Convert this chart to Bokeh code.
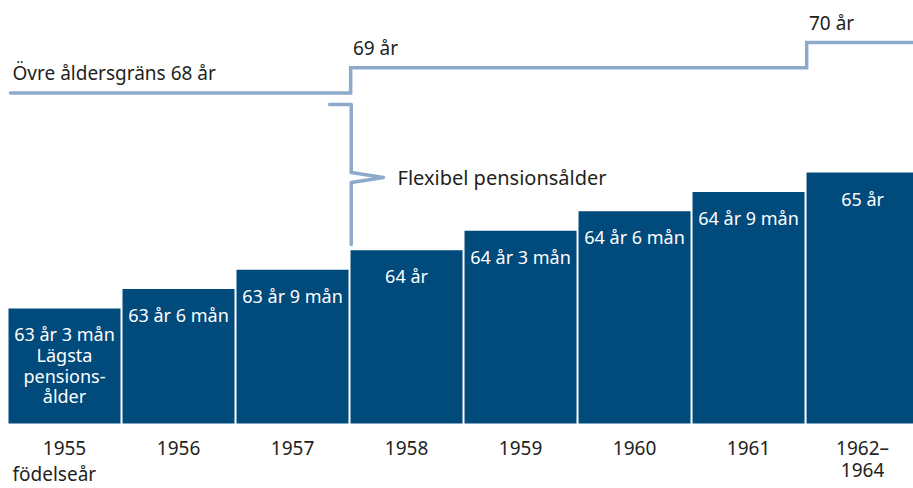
from bokeh.plotting import figure
from bokeh.models import Range1d
from bokeh.core.properties import value
from bokeh.embed import file_html
from bokeh.resources import INLINE

# ---- data ----
birth_years = ["1955", "1956", "1957", "1958", "1959", "1960", "1961", "1962–\n1964"]
min_age_years = [63, 63, 63, 64, 64, 64, 64, 65]
min_age_months = [3, 6, 9, 0, 3, 6, 9, 0]
upper_limit = [68, 68, 68, 69, 69, 69, 69, 70]
first_note = "Lägsta\npensions-\nålder"
upper_title = "Övre åldersgräns"
flex_title = "Flexibel pensionsålder"
x_title = "födelseår"

FONT = value("Noto Sans")
BAR = "#004a7c"
LINE = "#8eaacb"
TXT = "#231f20"

idx = list(range(len(birth_years)))
min_age = [y + m / 12 for y, m in zip(min_age_years, min_age_months)]
bar_labels = []
for y, m in zip(min_age_years, min_age_months):
    bar_labels.append(f"{y} år {m} mån" if m else f"{y} år")
bar_labels[0] = bar_labels[0] + "\n" + first_note

p = figure(width=913, height=488, x_range=Range1d(-0.5614, 7.447),
           y_range=Range1d(60.933, 67.214), output_backend="svg",
           toolbar_location=None, min_border=0,
           x_axis_location=None, y_axis_location=None)
p.extra_y_ranges = {"limit": Range1d(52.306, 71.671)}
p.grid.visible = False
p.outline_line_color = None
p.background_fill_color = "white"

base = 61.77
p.vbar(x=idx, top=min_age, bottom=base, width=0.9825, color=BAR, line_color=None)

# bar labels
p.text(x=idx, y=min_age, text=bar_labels, text_align="center", text_baseline="top",
       y_offset=14, text_color="white", text_font=FONT, text_font_size="18px",
       text_line_height=0.86)

# upper limit step line
xs, ys = [], []
for i, v in enumerate(upper_limit):
    left = -0.474 if i == 0 else i - 0.49
    xs += [left, i + 0.51]
    ys += [v, v]
p.line(xs, ys, y_range_name="limit", line_color=LINE, line_width=3.5,
       line_cap="round", line_join="miter")

# labels for upper limits
lab_x, lab_y, lab_t = [], [], []
for i, v in enumerate(upper_limit):
    if i == 0 or v != upper_limit[i - 1]:
        lab_x.append(-0.456 if i == 0 else i - 0.47)
        lab_y.append(v)
        lab_t.append(f"{upper_title} {v} år" if i == 0 else f"{v} år")
p.text(x=lab_x, y=lab_y, text=lab_t, y_range_name="limit", text_align="left",
       text_baseline="middle", y_offset=-20, text_color=TXT, text_font=FONT,
       text_font_size="19px")

# bracket for flexible pension age
bx = 2.515
p.line([2.325, bx, bx, 2.798, bx, bx], [65.875, 65.875, 65.0, 64.936, 64.872, 64.074],
       line_color=LINE, line_width=3.5, line_cap="round", line_join="round")
p.text(x=[2.921], y=[64.936], text=[flex_title], text_align="left",
       text_baseline="middle", text_color=TXT, text_font=FONT, text_font_size="20px")

# year labels (first and second line)
first_lines = [s.split("\n")[0] for s in birth_years]
second_x = [i for i, s in zip(idx, birth_years) if "\n" in s]
second_lines = [s.split("\n")[1] for s in birth_years if "\n" in s]
p.text(x=idx, y=[base] * len(idx), text=first_lines, text_align="center",
       text_baseline="middle", y_offset=25, text_color=TXT, text_font=FONT,
       text_font_size="19px")
p.text(x=second_x, y=[base] * len(second_x), text=second_lines, text_align="center",
       text_baseline="middle", y_offset=47, text_color=TXT, text_font=FONT,
       text_font_size="19px")
p.text(x=[-0.456], y=[base], text=[x_title], text_align="left",
       text_baseline="middle", y_offset=51, text_color=TXT, text_font=FONT,
       text_font_size="19px")

open("out.html", "w").write(file_html(p, INLINE))
